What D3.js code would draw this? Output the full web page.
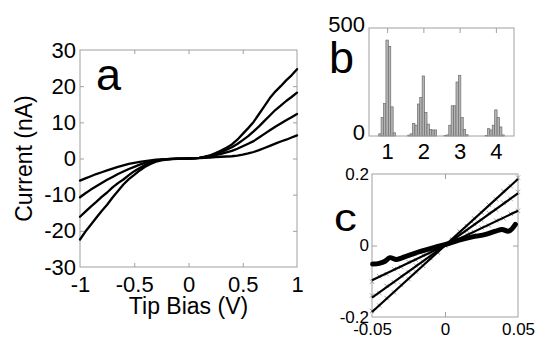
<!DOCTYPE html>
<html>
<head>
<meta charset="utf-8">
<script src="https://cdn.jsdelivr.net/npm/d3@7"></script>
<style>
  body { margin: 0; background: #fff; }
</style>
</head>
<body>
<svg id="fig" width="535" height="339"></svg>
<script>
// ---- panel a: I-V curves ----
const biasV = [-1,-0.95,-0.9,-0.85,-0.8,-0.75,-0.7,-0.65,-0.6,-0.55,-0.5,-0.45,-0.4,-0.35,-0.3,-0.25,-0.2,-0.15,-0.1,-0.05,
  0,0.05,0.1,0.15,0.2,0.25,0.3,0.35,0.4,0.45,0.5,0.55,0.6,0.65,0.7,0.75,0.8,0.85,0.9,0.95,1];
const current1 = [-22.4,-20.2,-18.3,-16.4,-14.5,-12.8,-10.8,-9.0,-7.2,-5.7,-4.5,-3.3,-2.3,-1.5,-0.9,-0.5,-0.3,-0.2,-0.1,-0.05,
  0,0.08,0.2,0.5,0.9,1.5,2.2,3.0,3.9,5.2,6.8,8.4,10.1,12.3,14.5,16.7,18.5,20.0,21.6,23.0,24.7];
const current2 = [-16.1,-14.7,-13.3,-12.0,-10.6,-9.4,-8.0,-6.8,-5.8,-4.6,-3.5,-2.6,-1.8,-1.1,-0.6,-0.35,-0.2,-0.12,-0.06,-0.02,
  0,0.06,0.2,0.45,0.8,1.3,1.8,2.4,3.1,4.0,5.1,6.2,7.5,8.9,10.4,11.9,13.4,14.6,15.9,17.0,18.2];
const current3 = [-10.7,-9.6,-8.6,-7.7,-6.8,-5.9,-5.1,-4.3,-3.6,-2.9,-2.3,-1.7,-1.2,-0.8,-0.5,-0.3,-0.18,-0.1,-0.05,-0.02,
  0,0.05,0.15,0.35,0.6,0.95,1.3,1.7,2.1,2.7,3.4,4.1,4.8,5.8,6.8,7.8,8.8,9.7,10.6,11.4,12.3];
const current4 = [-6.1,-5.5,-4.9,-4.3,-3.8,-3.3,-2.8,-2.3,-1.9,-1.5,-1.2,-0.95,-0.7,-0.5,-0.35,-0.25,-0.15,-0.1,-0.05,-0.02,
  0,0.04,0.1,0.18,0.28,0.38,0.48,0.55,0.62,0.8,1.05,1.4,1.8,2.3,2.9,3.5,4.1,4.7,5.2,5.8,6.4];
const aXTicks = [-1,-0.5,0,0.5,1];
const aYTicks = [-30,-20,-10,0,10,20,30];

// ---- panel b: histogram ----
const binWidth = 1/15;
const binCenter = [0.8,0.867,0.933,1.0,1.067,1.133,1.2,
  1.6,1.667,1.733,1.8,1.867,1.933,2.0,2.067,2.133,2.2,2.267,2.333,
  2.6,2.667,2.733,2.8,2.867,2.933,3.0,3.067,3.133,3.2,
  3.733,3.8,3.867,3.933,4.0,4.067,4.133,4.2];
const binCount = [10,86,150,444,415,135,15,
  4,10,58,50,148,179,278,109,55,30,28,28,
  3,5,50,140,140,250,281,85,30,6,
  3,34,28,50,121,86,42,5];
const bXTicks = [1,2,3,4];
const bYTicks = [0,500];

// ---- panel c: low-bias fits ----
const lowV = [-0.05,-0.045,-0.04,-0.035,-0.03,-0.025,-0.02,-0.015,-0.01,-0.005,0,
  0.005,0.01,0.015,0.02,0.025,0.03,0.035,0.04,0.045,0.05];
const lowI1 = [-0.183,-0.168,-0.147,-0.131,-0.110,-0.094,-0.073,-0.057,-0.035,-0.020,0.002,
  0.017,0.039,0.054,0.076,0.092,0.114,0.129,0.152,0.166,0.190];
const lowI2 = [-0.140,-0.133,-0.113,-0.103,-0.085,-0.074,-0.056,-0.045,-0.027,-0.016,0.001,
  0.014,0.031,0.042,0.060,0.071,0.091,0.100,0.120,0.130,0.150];
const lowI3 = [-0.101,-0.086,-0.080,-0.066,-0.060,-0.046,-0.040,-0.027,-0.020,-0.008,0.000,
  0.011,0.018,0.031,0.037,0.050,0.056,0.070,0.076,0.089,0.097];
const fitSlopes = [3.72, 2.92, 1.94];
const lowV4 = [-0.0496,-0.045,-0.041,-0.0377,-0.0332,-0.0253,-0.0162,-0.0071,0.0005,0.0096,0.0187,0.0278,0.0346,0.0391,0.0437,0.0482];
const lowI4 = [-0.052,-0.050,-0.044,-0.034,-0.039,-0.028,-0.016,-0.005,0.003,0.015,0.024,0.031,0.040,0.045,0.040,0.059];
const cXTicks = [-0.05,0,0.05];
const cYTicks = [-0.2,0,0.2];

const svg = d3.select("#fig");
const font = "'Liberation Sans', Arial, sans-serif";
const frameColor = "#a0a0a0";

// draw the axis labels / inward ticks, then restyle
function styleAxis(g, size) {
  g.select(".domain").remove();
  g.selectAll("line").attr("stroke", frameColor);
  g.selectAll("text").attr("fill", "#000").style("font-family", font).style("font-size", size + "px");
}
function frame(x, y) {
  svg.append("rect")
    .attr("x", x.range()[0]).attr("y", y.range()[1])
    .attr("width", x.range()[1] - x.range()[0])
    .attr("height", y.range()[0] - y.range()[1])
    .attr("fill", "none").attr("stroke", frameColor).attr("stroke-width", 1);
}
function inwardTicks(x, y, xt, yt, len) {
  const [x0, x1] = x.range(), [y0, y1] = y.range();
  svg.append("g").attr("transform", `translate(0,${y0})`)
    .call(d3.axisBottom(x).tickValues(xt).tickSize(-len).tickFormat("")).call(styleAxis, 10);
  svg.append("g").attr("transform", `translate(0,${y1})`)
    .call(d3.axisTop(x).tickValues(xt).tickSize(-len).tickFormat("")).call(styleAxis, 10);
  svg.append("g").attr("transform", `translate(${x0},0)`)
    .call(d3.axisLeft(y).tickValues(yt).tickSize(-len).tickFormat("")).call(styleAxis, 10);
  svg.append("g").attr("transform", `translate(${x1},0)`)
    .call(d3.axisRight(y).tickValues(yt).tickSize(-len).tickFormat("")).call(styleAxis, 10);
}
function labels(x, y, xt, yt, size, padX, padY) {
  svg.append("g").attr("transform", `translate(0,${y.range()[0]})`)
    .call(d3.axisBottom(x).tickValues(xt).tickSize(0).tickPadding(padX).tickFormat(d => String(d)))
    .call(styleAxis, size);
  svg.append("g").attr("transform", `translate(${x.range()[0]},0)`)
    .call(d3.axisLeft(y).tickValues(yt).tickSize(0).tickPadding(padY).tickFormat(d => String(d)))
    .call(styleAxis, size);
}

// ===== panel a =====
const xA = d3.scaleLinear([-1, 1], [80, 297]);
const yA = d3.scaleLinear([-30, 30], [267, 50]);
frame(xA, yA);
inwardTicks(xA, yA, [-0.5, 0, 0.5], [-20, -10, 0, 10, 20], 4);
labels(xA, yA, aXTicks, aYTicks, 22, 9, 4);

const lineA = d3.line().x((d, i) => xA(biasV[i])).y(d => yA(d));
[current1, current2, current3, current4].forEach(c => {
  svg.append("path").attr("d", lineA(c))
    .attr("fill", "none").attr("stroke", "#000").attr("stroke-width", 2.3)
    .attr("stroke-linejoin", "round").attr("stroke-linecap", "round");
});

svg.append("text").attr("x", xA(0)).attr("y", 314).attr("text-anchor", "middle")
  .style("font-family", font).style("font-size", "23px").text("Tip Bias (V)");
svg.append("text").attr("transform", `translate(32,${yA(0)}) rotate(-90)`).attr("text-anchor", "middle")
  .style("font-family", font).style("font-size", "23px").text("Current (nA)");
svg.append("text").attr("x", 96).attr("y", 90)
  .style("font-family", font).style("font-size", "45px").text("a");

// ===== panel b =====
const xB = d3.scaleLinear([0.5, 4.5], [369, 514]);
const yB = d3.scaleLinear([0, 500], [136, 28]);
svg.append("g").selectAll("rect")
  .data(binCount)
  .join("rect")
  .attr("x", (d, i) => xB(binCenter[i] - binWidth / 2))
  .attr("width", xB(binWidth) - xB(0))
  .attr("y", d => yB(d))
  .attr("height", d => yB(0) - yB(d))
  .attr("fill", "#b4b4b4").attr("stroke", "#6e6e6e").attr("stroke-width", 0.7);
frame(xB, yB);
svg.append("g").attr("transform", `translate(0,${yB.range()[1]})`)
  .call(d3.axisTop(xB).tickValues(bXTicks).tickSize(-5).tickFormat("")).call(styleAxis, 10);
svg.append("g").attr("transform", `translate(0,${yB.range()[0]})`)
  .call(d3.axisBottom(xB).tickValues(bXTicks).tickSize(0).tickPadding(7).tickFormat(d => String(d)))
  .call(styleAxis, 22);
svg.append("g").attr("transform", `translate(${xB.range()[0] - 4},-4)`)
  .call(d3.axisLeft(yB).tickValues(bYTicks).tickSize(0).tickPadding(0).tickFormat(d => String(d)))
  .call(styleAxis, 22);
svg.append("text").attr("x", 329).attr("y", 73)
  .style("font-family", font).style("font-size", "45px").text("b");

// ===== panel c =====
const xC = d3.scaleLinear([-0.05, 0.05], [372, 518]);
const yC = d3.scaleLinear([-0.2, 0.2], [317, 174]);
frame(xC, yC);
inwardTicks(xC, yC, [0], [0], 5);
labels(xC, yC, cXTicks, cYTicks, 17, 6, 3);

const cross = d3.symbol(d3.symbolX, 14);
[lowI1, lowI2, lowI3].forEach(s => {
  svg.append("g").selectAll("path")
    .data(s)
    .join("path")
    .attr("transform", (d, i) => `translate(${xC(lowV[i])},${yC(d)})`)
    .attr("d", cross)
    .attr("fill", "none").attr("stroke", "#8a8a8a").attr("stroke-width", 0.8);
});
fitSlopes.forEach(m => {
  const ends = xC.domain();
  svg.append("line")
    .attr("x1", xC(ends[0])).attr("y1", yC(m * ends[0]))
    .attr("x2", xC(ends[1])).attr("y2", yC(m * ends[1]))
    .attr("stroke", "#000").attr("stroke-width", 2.2);
});
const lineC = d3.line().x((d, i) => xC(lowV4[i])).y(d => yC(d)).curve(d3.curveCatmullRom);
svg.append("path").attr("d", lineC(lowI4))
  .attr("fill", "none").attr("stroke", "#000").attr("stroke-width", 5)
  .attr("stroke-linejoin", "round").attr("stroke-linecap", "round");

svg.append("text").attr("transform", "translate(334,231) scale(1.2,1)")
  .style("font-family", font).style("font-size", "38px").text("c");
</script>
</body>
</html>
